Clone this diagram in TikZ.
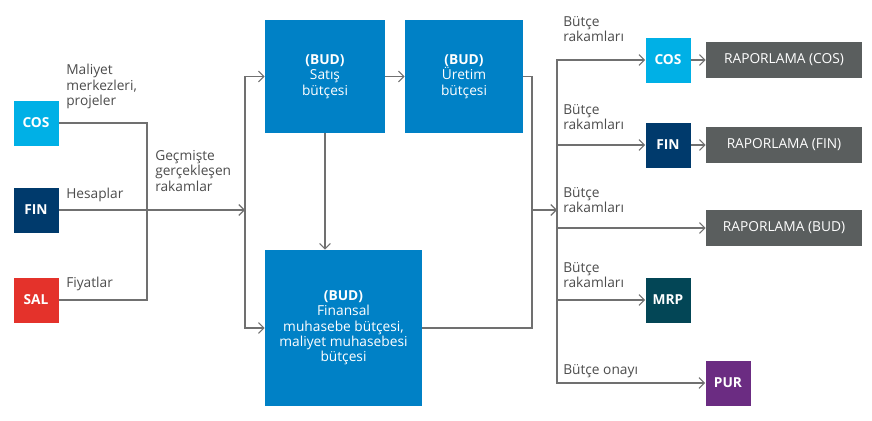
\documentclass[tikz,border=0pt]{standalone}
\usepackage{fontspec}
\setmainfont{Open Sans}
\usetikzlibrary{arrows.meta}
\definecolor{cosblue}{HTML}{00B0E6}
\definecolor{finblue}{HTML}{003A6C}
\definecolor{salred}{HTML}{E4322B}
\definecolor{budblue}{HTML}{0081C6}
\definecolor{repgray}{HTML}{5A5E5E}
\definecolor{mrpteal}{HTML}{034656}
\definecolor{purviolet}{HTML}{6B2C82}
\definecolor{linegray}{HTML}{707070}
\begin{document}
\begin{tikzpicture}[x=0.75pt, y=-0.75pt,
    every node/.style={font=\fontsize{10.3}{11.5}\selectfont},
    box/.style={inner sep=0pt, text=white, align=center},
    sq/.style={box, minimum width=33.75pt, minimum height=33.75pt, font=\fontsize{10.3}{11.5}\selectfont\bfseries},
    rep/.style={box, fill=repgray, minimum width=117pt, minimum height=27pt},
    lbl/.style={text=black!70, align=left, anchor=north west, inner sep=0pt},
    ln/.style={draw=linegray, line width=0.9pt},
    arr/.style={ln, -{Straight Barb[length=4pt, width=8pt]}}]
    \useasboundingbox (0,0) rectangle (872,421);

    % Sources
    \node[sq, fill=cosblue] (cosL) at (36,123) {COS};
    \node[sq, fill=finblue] (finL) at (36,210) {FIN};
    \node[sq, fill=salred] (salL) at (36,300) {SAL};
    \node[lbl] at (66,64) {Maliyet\\merkezleri,\\projeler};
    \node[lbl] at (66,188) {Hesaplar};
    \node[lbl] at (66,277) {Fiyatlar};
    \node[lbl] at (155,150) {Geçmişte\\gerçekleşen\\rakamlar};

    % Budget boxes
    \node[box, fill=budblue, minimum width=90pt, minimum height=84.75pt] (sales) at (325,76.5) {\textbf{(BUD)}\\Satış\\bütçesi};
    \node[box, fill=budblue, minimum width=88.5pt, minimum height=84.75pt] (prod) at (464,76.5) {\textbf{(BUD)}\\Üretim\\bütçesi};
    \node[box, fill=budblue, minimum width=117.75pt, minimum height=117pt] (fin) at (343.5,328) {\textbf{(BUD)}\\Finansal\\muhasebe bütçesi,\\maliyet muhasebesi\\bütçesi};

    % Targets
    \node[sq, fill=cosblue] (cosR) at (668,60) {COS};
    \node[sq, fill=finblue] (finR) at (668,145) {FIN};
    \node[sq, fill=mrpteal] (mrp) at (668,300) {MRP};
    \node[sq, fill=purviolet] (pur) at (728,383) {PUR};
    \node[rep] (repC) at (784,60) {RAPORLAMA (COS)};
    \node[rep] (repF) at (784,145) {RAPORLAMA (FIN)};
    \node[rep] (repB) at (784,228) {RAPORLAMA (BUD)};
    \node[lbl] at (563,16) {Bütçe\\rakamları};
    \node[lbl] at (563,104) {Bütçe\\rakamları};
    \node[lbl] at (563,187) {Bütçe\\rakamları};
    \node[lbl] at (563,262) {Bütçe\\rakamları};
    \node[lbl] at (563,364) {Bütçe onayı};

    \coordinate (jL) at (147,210);
    \coordinate (jM) at (245,210);
    \coordinate (jR) at (532,210);
    \coordinate (jT) at (557,210);

    % Connectors
    \draw[ln] (cosL.east) -| (jL) |- (salL.east);
    \draw[ln] (finL.east) -- (jL);
    \draw[arr] (jL) -- (jM);
    \draw[arr] (jM) |- (sales.west);
    \draw[arr] (jM) |- (fin.west);
    \draw[arr] (sales) -- (prod);
    \draw[arr] (sales.south) -- (sales.south |- fin.north);
    \draw[ln] (prod.east) -| (jR) |- (fin.east);
    \draw[arr] (jR) -- (jT);
    \draw[arr] (jT) |- (cosR.west);
    \draw[arr] (jT) |- (finR.west);
    \draw[arr] (jT) |- (repB.west);
    \draw[arr] (jT) |- (mrp.west);
    \draw[arr] (jT) |- (pur.west);
    \draw[arr] (cosR) -- (repC);
    \draw[arr] (finR) -- (repF);
\end{tikzpicture}
\end{document}
